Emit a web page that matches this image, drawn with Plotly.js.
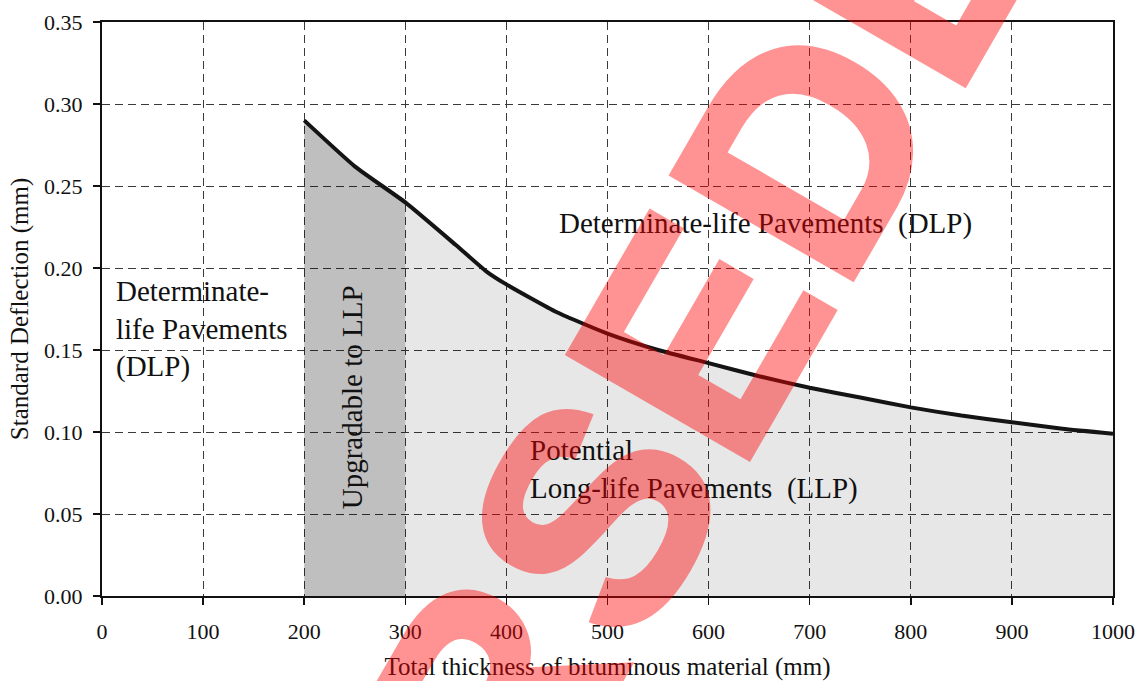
<!DOCTYPE html>
<html>
<head>
<meta charset="utf-8">
<script src="https://cdn.plot.ly/plotly-3.0.1.min.js"></script>
<style>
html,body{margin:0;padding:0;background:#fff;overflow:hidden;}
#wrap{position:relative;width:1135px;height:681px;overflow:hidden;}
#chart{width:1135px;height:681px;}
#stamp{position:absolute;left:545px;top:603px;transform:translate(-50%,-50%) rotate(-60deg);
  font-family:'Liberation Sans',Arial,sans-serif;font-weight:bold;font-size:302px;line-height:1;
  letter-spacing:6px;color:#ff0000;-webkit-text-stroke:6px #ff0000;opacity:0.42;
  white-space:nowrap;pointer-events:none;}
</style>
</head>
<body>
<div id="wrap">
<div id="chart"></div>
<div id="stamp">SUPERSEDED</div>
</div>
<script>
// Data
const thickness = [200, 250, 300, 350, 380, 400, 450, 500, 550, 600, 650, 700, 750, 800, 850, 900, 950, 1000];
const deflection = [0.290, 0.262, 0.240, 0.214, 0.198, 0.190, 0.173, 0.160, 0.150, 0.142, 0.134, 0.127, 0.121, 0.115, 0.110, 0.106, 0.102, 0.099];
const upgradeStart = 200;
const upgradeEnd = 300;
const xTicks = [0, 100, 200, 300, 400, 500, 600, 700, 800, 900, 1000];
const yTicks = [0, 0.05, 0.10, 0.15, 0.20, 0.25, 0.30, 0.35];
const yTickText = ['0.00', '0.05', '0.10', '0.15', '0.20', '0.25', '0.30', '0.35'];

const upX = [], upY = [], llpX = [], llpY = [];
thickness.forEach((t, i) => {
  if (t >= upgradeStart && t <= upgradeEnd) { upX.push(t); upY.push(deflection[i]); }
  if (t >= upgradeEnd) { llpX.push(t); llpY.push(deflection[i]); }
});

const serif = 'Liberation Serif, Times New Roman, serif';

const traces = [
  { x: upX, y: upY, type: 'scatter', mode: 'lines', fill: 'tozeroy',
    fillcolor: 'rgba(0,0,0,0.25)', line: { width: 0, color: 'rgba(0,0,0,0)' }, hoverinfo: 'skip' },
  { x: llpX, y: llpY, type: 'scatter', mode: 'lines', fill: 'tozeroy',
    fillcolor: 'rgba(0,0,0,0.095)', line: { width: 0, color: 'rgba(0,0,0,0)' }, hoverinfo: 'skip' },
  { x: thickness, y: deflection, type: 'scatter', mode: 'lines',
    line: { color: '#141414', width: 4, shape: 'spline', smoothing: 0.5 } }
];

const layout = {
  width: 1135, height: 681,
  margin: { l: 102, r: 22, t: 22, b: 85 },
  paper_bgcolor: '#ffffff', plot_bgcolor: '#ffffff',
  showlegend: false,
  font: { family: serif, color: '#111' },
  xaxis: {
    range: [0, 1000], tickvals: xTicks, ticktext: xTicks.map(String),
    ticks: 'outside', ticklen: 7, tickwidth: 1.5, tickcolor: '#111',
    ticklabelstandoff: 8,
    showline: true, linecolor: '#111', linewidth: 2, mirror: true,
    showgrid: true, gridcolor: '#3a3a3a', gridwidth: 1, griddash: '8px,5px',
    zeroline: false, tickfont: { family: serif, size: 22, color: '#111' },
    title: { text: 'Total thickness of bituminous material (mm)', font: { family: serif, size: 25, color: '#111' }, standoff: 14 }
  },
  yaxis: {
    range: [0, 0.35], tickvals: yTicks, ticktext: yTickText,
    ticks: 'outside', ticklen: 7, tickwidth: 1.5, tickcolor: '#111',
    ticklabelstandoff: 6,
    showline: true, linecolor: '#111', linewidth: 2, mirror: true,
    showgrid: true, gridcolor: '#3a3a3a', gridwidth: 1, griddash: '8px,5px',
    zeroline: false, tickfont: { family: serif, size: 22, color: '#111' },
    title: { text: 'Standard Deflection (mm)', font: { family: serif, size: 25, color: '#111' }, standoff: 8 }
  },
  annotations: [
    { x: 656, y: 0.227, xref: 'x', yref: 'y', showarrow: false,
      text: 'Determinate-life Pavements&nbsp;&nbsp;(DLP)', font: { family: serif, size: 29, color: '#111' } },
    { x: 12, y: 0.163, xref: 'x', yref: 'y', showarrow: false, xanchor: 'left', yanchor: 'middle', align: 'left',
      text: 'Determinate-<br>life Pavements<br>(DLP)', font: { family: serif, size: 29, color: '#111' } },
    { x: 247, y: 0.121, xref: 'x', yref: 'y', showarrow: false, textangle: -90,
      text: 'Upgradable to LLP', font: { family: serif, size: 29, color: '#111' } },
    { x: 421, y: 0.077, xref: 'x', yref: 'y', showarrow: false, xanchor: 'left', yanchor: 'middle', align: 'left',
      text: 'Potential<br>Long-life Pavements&nbsp;&nbsp;(LLP)', font: { family: serif, size: 29, color: '#111' } }
  ]
};

Plotly.newPlot('chart', traces, layout, { staticPlot: true, displayModeBar: false });
</script>
</body>
</html>
